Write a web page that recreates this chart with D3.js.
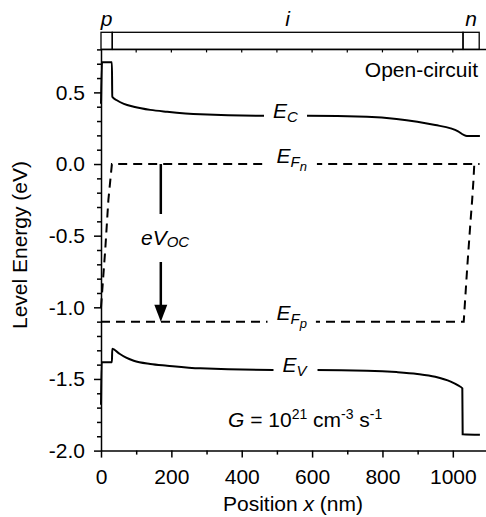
<!DOCTYPE html>
<html>
<head>
<meta charset="utf-8">
<script src="https://cdn.jsdelivr.net/npm/d3@7"></script>
<style>
  body { margin: 0; background: #fff; }
  svg { display: block; font-family: Arial, "Liberation Sans", sans-serif; }
</style>
</head>
<body>
<div id="chart"></div>
<script>
// band edges (position in nm, energy in eV)
const ecX = [0, 3, 31, 32, 45, 65, 93, 140, 188, 282, 462, 588, 756, 840, 899, 950, 994, 1015, 1031, 1040, 1077];
const ecY = [0.42, 0.71, 0.71, 0.47, 0.445, 0.42, 0.40, 0.378, 0.365, 0.347, 0.337, 0.337, 0.330, 0.315, 0.295, 0.272, 0.249, 0.228, 0.203, 0.196, 0.195];

const evX = [0, 2, 31, 32, 50, 70, 93, 140, 188, 282, 490, 610, 756, 840, 899, 950, 994, 1015, 1027, 1028, 1077];
const evY = [-1.68, -1.384, -1.384, -1.29, -1.32, -1.35, -1.373, -1.395, -1.407, -1.426, -1.437, -1.437, -1.442, -1.452, -1.465, -1.485, -1.519, -1.545, -1.565, -1.886, -1.89];

// quasi-Fermi levels
const efnX = [0, 3, 12, 21, 31, 1076];
const efnY = [-1.0, -0.9, -0.6, -0.25, 0, 0];
const efpX = [0, 1031, 1041, 1050, 1055, 1059, 1061];
const efpY = [-1.1, -1.1, -0.72, -0.41, -0.25, -0.1, 0];

// layers of the device
const regionNames = ['p', 'i', 'n'];
const regionStart = [0, 32, 1029];
const regionEnd = [32, 1029, 1075];

const xMajor = [0, 200, 400, 600, 800, 1000];
const xMinor = [100, 300, 500, 700, 900, 1100];
const yMajor = [-2.0, -1.5, -1.0, -0.5, 0.0, 0.5];
const vocX = 170;

const width = 486, height = 517;
const font = 'Arial, "Liberation Sans", sans-serif';

const x = d3.scaleLinear().domain([0, 1100]).range([101, 488]);
const y = d3.scaleLinear().domain([-2.0, 0.8]).range([450.6, 49.4]);

const svg = d3.select('#chart').append('svg')
  .attr('width', width)
  .attr('height', height);

// bottom axis
svg.append('g')
  .attr('transform', `translate(0,${y(-2)})`)
  .call(d3.axisBottom(x).tickValues(xMajor).tickSize(7).tickSizeOuter(0).tickPadding(11).tickFormat(d3.format('d')));
svg.append('g')
  .attr('transform', `translate(0,${y(-2)})`)
  .call(d3.axisBottom(x).tickValues(xMinor).tickSize(4).tickSizeOuter(0).tickFormat(''))
  .select('.domain').remove();

// left axis
const yMinor = d3.range(-20, 9).map(d => d / 10).filter(d => !yMajor.some(m => Math.abs(m - d) < 1e-6));
svg.append('g')
  .attr('transform', `translate(${x(0)},0)`)
  .call(d3.axisLeft(y).tickValues(yMajor).tickSize(7).tickSizeOuter(0).tickPadding(9).tickFormat(d3.format('.1f')));
svg.append('g')
  .attr('transform', `translate(${x(0)},0)`)
  .call(d3.axisLeft(y).tickValues(yMinor).tickSize(4).tickSizeOuter(0).tickFormat(''))
  .select('.domain').remove();

svg.selectAll('.tick text')
  .attr('font-size', 21)
  .attr('font-family', font)
  .attr('fill', '#000')
  .text(function () { return d3.select(this).text().replace('−', '-'); });
svg.selectAll('.domain, .tick line').attr('stroke', '#000').attr('stroke-width', 1.5);

// top frame line with small inward ticks
svg.append('line')
  .attr('x1', x(0)).attr('x2', width + 2)
  .attr('y1', y(0.8)).attr('y2', y(0.8))
  .attr('stroke', '#000').attr('stroke-width', 1.5);
svg.selectAll('.topTick')
  .data(d3.range(100, 1100, 100))
  .enter().append('line')
  .attr('x1', d => x(d)).attr('x2', d => x(d))
  .attr('y1', y(0.8)).attr('y2', y(0.8) + 3)
  .attr('stroke', '#000').attr('stroke-width', 1.2);

// device layer bar
const barTop = 32.3, barBottom = y(0.8);
svg.selectAll('.layer')
  .data(regionNames)
  .enter().append('rect')
  .attr('x', (d, i) => x(regionStart[i]))
  .attr('y', barTop)
  .attr('width', (d, i) => x(regionEnd[i]) - x(regionStart[i]))
  .attr('height', barBottom - barTop)
  .attr('fill', 'none')
  .attr('stroke', '#000')
  .attr('stroke-width', 1.3);
svg.selectAll('.layerLabel')
  .data(regionNames)
  .enter().append('text')
  .attr('x', (d, i) => (x(regionStart[i]) + x(regionEnd[i])) / 2)
  .attr('y', 26)
  .attr('text-anchor', 'middle')
  .attr('font-size', 21)
  .attr('font-style', 'italic')
  .text(d => d);

// curves
const line = d3.line().x(d => x(d[0])).y(d => y(d[1]));
const zip = (a, b) => a.map((v, i) => [v, b[i]]);

svg.append('path')
  .attr('d', line.curve(d3.curveMonotoneX)(zip(ecX, ecY)))
  .attr('fill', 'none').attr('stroke', '#000').attr('stroke-width', 2);
svg.append('path')
  .attr('d', line.curve(d3.curveMonotoneX)(zip(evX, evY)))
  .attr('fill', 'none').attr('stroke', '#000').attr('stroke-width', 2);
svg.append('path')
  .attr('d', line.curve(d3.curveLinear)(zip(efnX, efnY)))
  .attr('fill', 'none').attr('stroke', '#000').attr('stroke-width', 2)
  .attr('stroke-dasharray', '9,6');
svg.append('path')
  .attr('d', line.curve(d3.curveLinear)(zip(efpX, efpY)))
  .attr('fill', 'none').attr('stroke', '#000').attr('stroke-width', 2)
  .attr('stroke-dasharray', '9,6');

// eV_OC arrow
const tipY = y(-1.1);
svg.append('line')
  .attr('x1', x(vocX)).attr('x2', x(vocX))
  .attr('y1', y(0)).attr('y2', tipY - 14)
  .attr('stroke', '#000').attr('stroke-width', 2.5);
svg.append('path')
  .attr('d', `M${x(vocX) - 6.5},${tipY - 17}L${x(vocX) + 6.5},${tipY - 17}L${x(vocX)},${tipY}Z`)
  .attr('fill', '#000');

// labels sitting on the lines, with a white patch behind them
function label(px, py, parts, pad) {
  const g = svg.append('g');
  const bg = g.append('rect').attr('fill', '#fff');
  const t = g.append('text')
    .attr('x', px).attr('y', py)
    .attr('font-size', 21)
    .attr('font-style', 'italic');
  parts.forEach(p => {
    t.append('tspan').attr('font-size', p.size).attr('dy', p.dy).text(p.text);
  });
  const b = t.node().getBBox();
  bg.attr('x', b.x - pad[0]).attr('y', b.y - pad[1])
    .attr('width', b.width + pad[0] * 2).attr('height', b.height + pad[1] * 2);
}

label(273, 118.3, [{ text: 'E', size: 21, dy: 0 }, { text: 'C', size: 15, dy: 4 }], [9, 0]);
label(276.5, 163, [{ text: 'E', size: 21, dy: 0 }, { text: 'F', size: 15, dy: 4 }, { text: 'n', size: 13, dy: 4 }], [10, 0]);
label(276.5, 320, [{ text: 'E', size: 21, dy: 0 }, { text: 'F', size: 15, dy: 4 }, { text: 'p', size: 13, dy: 4 }], [9, 0]);
label(282.5, 371.7, [{ text: 'E', size: 21, dy: 0 }, { text: 'V', size: 15, dy: 4 }], [9, 0]);
label(141, 245, [{ text: 'eV', size: 21, dy: 0 }, { text: 'OC', size: 15, dy: 2 }], [4, 12]);

// annotations
svg.append('text')
  .attr('x', 478).attr('y', 77)
  .attr('text-anchor', 'end')
  .attr('font-size', 21)
  .text('Open-circuit');

const gText = svg.append('text')
  .attr('x', 228).attr('y', 426.7)
  .attr('font-size', 21);
gText.append('tspan').attr('font-style', 'italic').text('G');
gText.append('tspan').text(' = 10');
gText.append('tspan').attr('font-size', 14).attr('dy', -8).text('21');
gText.append('tspan').attr('dy', 8).text(' cm');
gText.append('tspan').attr('font-size', 14).attr('dy', -8).text('-3');
gText.append('tspan').attr('dy', 8).text(' s');
gText.append('tspan').attr('font-size', 14).attr('dy', -8).text('-1');

// axis titles
const xTitle = svg.append('text')
  .attr('x', 293).attr('y', 511)
  .attr('text-anchor', 'middle')
  .attr('font-size', 21);
xTitle.append('tspan').text('Position ');
xTitle.append('tspan').attr('font-style', 'italic').text('x');
xTitle.append('tspan').text(' (nm)');

svg.append('text')
  .attr('transform', 'translate(27,245) rotate(-90)')
  .attr('text-anchor', 'middle')
  .attr('font-size', 21)
  .text('Level Energy (eV)');
</script>
</body>
</html>
